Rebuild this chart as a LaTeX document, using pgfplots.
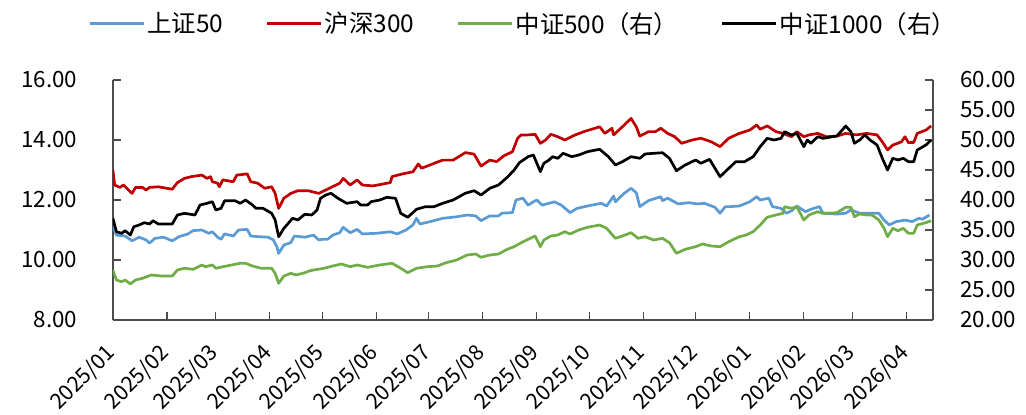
\documentclass[border=0pt]{standalone}
\usepackage{fontspec}
\setmainfont{Noto Sans CJK SC}
\usepackage{pgfplots}
\pgfplotsset{compat=1.18}
\definecolor{c50}{HTML}{5B9BD5}
\definecolor{c300}{HTML}{C00000}
\definecolor{c500}{HTML}{70AD47}
\definecolor{c1000}{HTML}{000000}
\definecolor{axgray}{HTML}{4D4D4D}

\pgfplotstableread{
d v
0 13.0
1 12.5
4 12.42
6 12.5
9 12.33
11 12.22
13 12.42
17 12.42
19 12.33
21 12.42
26 12.44
34 12.36
37 12.58
41 12.72
45 12.78
51 12.83
54 12.72
56 12.78
57 12.61
60 12.56
61 12.44
63 12.67
69 12.61
71 12.83
77 12.87
79 12.61
83 12.56
87 12.39
91 12.44
93 12.22
95 11.72
98 12.06
102 12.22
106 12.31
112 12.31
118 12.22
124 12.39
130 12.56
132 12.72
136 12.5
140 12.67
143 12.5
149 12.47
159 12.58
160 12.78
166 12.87
172 12.94
175 13.2
177 13.06
184 13.22
189 13.33
195 13.33
202 13.58
207 13.53
211 13.13
216 13.33
220 13.28
224 13.47
229 13.61
232 14.06
234 14.17
238 14.17
242 14.19
245 13.89
248 14.0
251 14.19
255 14.11
259 14.0
265 14.17
270 14.28
279 14.44
282 14.22
286 14.39
287 14.17
292 14.44
297 14.72
300 14.44
302 14.13
307 14.28
311 14.28
314 14.39
318 14.22
322 14.11
326 13.89
332 14.0
337 14.06
343 13.94
348 13.78
353 14.06
359 14.22
365 14.33
369 14.5
371 14.36
375 14.47
380 14.28
384 14.22
389 14.11
392 14.28
396 14.11
399 14.17
404 14.22
409 14.11
415 14.13
420 14.22
426 14.17
432 14.22
438 14.17
441 13.94
444 13.67
447 13.83
452 13.94
454 14.11
456 13.91
459 13.92
461 14.22
466 14.33
469 14.47
}\hsthree

\pgfplotstableread{
d v
0 11.11
2 10.83
7 10.8
11 10.64
15 10.76
19 10.67
21 10.56
24 10.72
29 10.76
34 10.64
38 10.78
43 10.87
46 10.98
51 11.0
55 10.89
57 10.94
60 10.76
62 10.69
64 10.87
69 10.8
72 11.0
77 11.02
79 10.8
83 10.78
89 10.76
92 10.67
94 10.44
95 10.22
98 10.5
102 10.58
104 10.8
110 10.76
115 10.83
118 10.67
120 10.69
123 10.69
126 10.83
130 10.91
132 11.09
136 10.91
140 11.02
143 10.87
151 10.89
159 10.94
163 10.87
168 11.0
172 11.17
174 11.39
176 11.2
182 11.28
189 11.39
197 11.44
203 11.5
208 11.47
211 11.31
216 11.47
221 11.47
223 11.56
229 11.58
231 12.0
235 12.06
238 11.83
241 11.94
243 12.0
246 11.83
250 11.89
253 11.94
257 11.83
262 11.58
266 11.72
272 11.8
280 11.89
283 11.8
287 12.13
288 11.94
293 12.22
297 12.39
300 12.24
302 11.78
307 11.98
314 12.11
315 11.98
318 12.06
324 11.87
330 11.91
335 11.87
339 11.89
345 11.76
348 11.56
351 11.78
354 11.78
359 11.8
365 11.94
369 12.11
371 12.0
376 12.06
378 11.78
383 11.72
386 11.56
389 11.64
392 11.8
397 11.61
400 11.69
405 11.78
407 11.56
415 11.53
420 11.56
423 11.67
428 11.56
433 11.56
439 11.56
442 11.33
445 11.17
449 11.28
454 11.33
458 11.28
462 11.39
464 11.36
468 11.5
}\szfifty

\pgfplotstableread{
d v
0 28.33
2 26.67
5 26.38
7 26.67
10 26.0
13 26.67
17 26.95
22 27.5
28 27.33
34 27.33
37 28.33
41 28.62
46 28.45
51 29.17
53 28.88
57 29.17
59 28.62
63 28.88
68 29.17
73 29.45
76 29.45
80 29.0
85 28.62
91 28.62
93 27.78
95 26.12
98 27.33
102 27.78
105 27.5
110 27.88
113 28.22
121 28.62
126 29.0
131 29.33
136 28.88
140 29.17
146 28.78
153 29.17
160 29.45
165 28.62
169 27.88
174 28.62
180 28.88
186 29.0
191 29.55
197 30.0
203 30.83
208 31.0
211 30.45
216 30.83
221 31.0
226 31.78
230 32.22
234 32.88
238 33.45
242 34.0
245 32.22
247 33.33
251 34.0
255 34.17
259 34.72
262 34.33
267 35.0
272 35.45
279 35.83
283 35.28
288 33.62
292 34.0
297 34.55
301 33.62
305 33.88
310 33.33
315 33.62
319 32.88
323 31.12
328 31.78
334 32.22
338 32.67
343 32.33
348 32.22
353 33.05
359 33.88
363 34.17
367 34.72
371 35.83
375 37.12
380 37.5
384 37.78
385 38.88
389 38.62
392 38.88
396 36.67
399 37.5
404 38.05
407 37.78
415 37.88
420 38.78
423 38.78
425 37.22
428 37.67
432 37.5
435 37.5
439 36.67
442 35.28
444 33.88
447 35.28
450 34.88
453 35.28
456 34.45
459 34.45
461 35.83
466 36.22
469 36.55
}\zzfive

\pgfplotstableread{
d v
0 36.95
2 34.72
5 34.45
7 34.88
10 34.17
12 35.55
15 35.83
18 36.22
21 36.0
23 36.55
26 36.0
34 36.0
37 37.5
41 37.78
47 37.5
50 39.17
54 39.45
57 39.72
59 38.33
62 38.62
64 39.88
70 39.88
73 39.45
76 40.0
80 39.17
82 38.62
86 38.62
91 37.78
93 36.67
95 33.88
98 35.28
103 36.95
106 36.67
110 37.62
114 37.5
117 38.33
119 40.28
122 40.83
125 41.12
129 40.28
134 39.45
140 39.72
142 39.17
146 39.17
148 39.72
153 40.0
157 40.45
162 40.28
165 37.78
169 37.12
174 38.45
179 38.88
184 38.88
189 39.45
195 40.0
202 41.12
207 41.55
211 40.83
216 41.95
221 42.5
226 43.78
230 45.0
233 46.22
238 47.22
241 47.5
243 46.12
245 44.72
247 46.12
250 46.67
252 47.22
255 46.95
258 47.78
263 47.22
267 47.5
272 48.05
279 48.45
284 47.22
288 45.83
292 46.38
297 47.22
302 46.95
305 47.67
310 47.78
315 47.88
319 46.95
323 44.88
328 45.83
334 46.67
337 46.12
342 46.78
348 43.88
353 45.28
357 46.38
362 46.38
367 47.22
371 48.88
375 50.28
379 50.0
383 50.28
385 51.38
389 50.83
392 51.12
396 48.88
398 50.0
400 49.45
404 50.55
407 50.28
415 50.67
420 52.33
423 51.38
425 49.45
428 50.0
431 50.83
434 50.0
438 49.17
441 46.95
444 45.0
447 46.95
450 46.67
453 46.95
456 46.38
459 46.38
461 48.33
466 49.17
469 50.0
}\zzthousand

\pgfplotsset{
  basestyle/.style={
    width=820bp, height=240bp, scale only axis,
    at={(0,0)}, anchor=south west,
    xmin=0, xmax=470,
    xtick={0,31,59,90,120,151,181,212,243,273,304,334,365,396,424,455},
    axis line style={axgray, line width=1.3bp},
    major tick style={axgray, line width=1.1bp},
    major tick length=8bp,
    tick align=inside,
    /pgf/number format/assume math mode=true,
    tick label style={font=\fontsize{22.5}{24}\selectfont, black},
    every axis plot/.append style={line width=2.7bp, line join=round},
  }
}

\begin{document}
\begin{tikzpicture}
\useasboundingbox (-112.9bp,-95bp) rectangle (913.1bp,320bp);
\begin{axis}[basestyle,
  axis x line*=bottom, axis y line*=left,
  ymin=8, ymax=16, ytick={8,10,12,14,16},
  yticklabel style={xshift=-32bp, /pgf/number format/.cd, fixed, fixed zerofill, precision=2},
  xticklabels={2025/01,2025/02,2025/03,2025/04,2025/05,2025/06,2025/07,2025/08,2025/09,2025/10,2025/11,2025/12,2026/01,2026/02,2026/03,2026/04},
  xticklabel style={font=\fontsize{21.5}{22}\selectfont, inner sep=0bp, xshift=-9bp, yshift=-22bp, rotate=45, anchor=north east},
]
\addplot[c50] table[x=d,y=v] {\szfifty};
\addplot[c300] table[x=d,y=v] {\hsthree};
\end{axis}
\begin{axis}[basestyle,
  axis x line=none, axis y line*=right,
  ymin=20, ymax=60, ytick={20,25,...,60},
  yticklabel style={xshift=24bp, /pgf/number format/.cd, fixed, fixed zerofill, precision=2},
  legend columns=4,
  legend style={at={(0.5,1.236)}, anchor=center, draw=none, fill=none,
    font=\fontsize{24.5}{25}\selectfont,
    /tikz/every even column/.append style={column sep=40bp}},
  legend image code/.code={\draw[#1, line width=3.5bp] (0bp,0bp) -- (54bp,0bp);},
]
\addlegendimage{c50}
\addlegendentry{上证50}
\addlegendimage{c300}
\addlegendentry{沪深300}
\addplot[c500] table[x=d,y=v] {\zzfive};
\addlegendentry{中证500（右）}
\addplot[c1000] table[x=d,y=v] {\zzthousand};
\addlegendentry{中证1000（右）}
\end{axis}
\end{tikzpicture}
\end{document}
